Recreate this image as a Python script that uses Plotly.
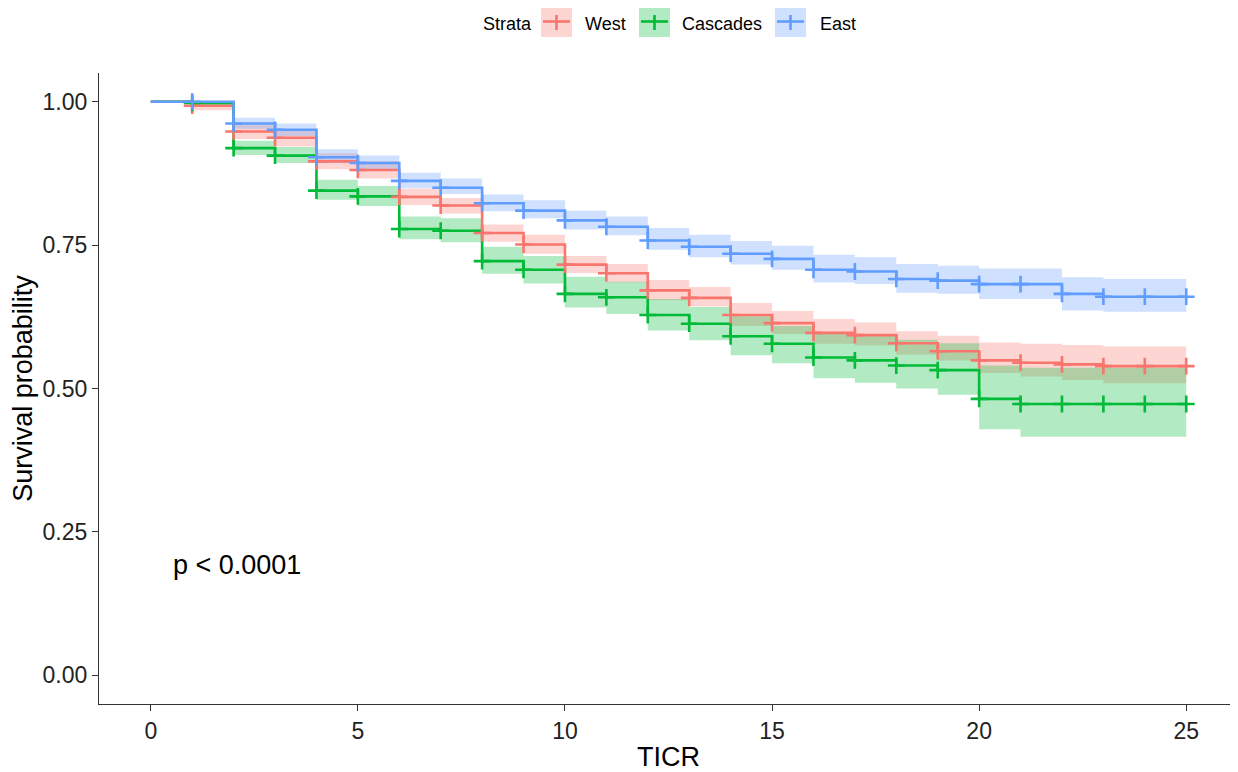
import plotly.graph_objects as go

# ---------------- data ----------------
times = list(range(0, 26))

west_surv = [1.000, 0.993, 0.948, 0.937, 0.896, 0.881, 0.834, 0.819, 0.771, 0.751,
             0.716, 0.701, 0.671, 0.658, 0.628, 0.614, 0.597, 0.593, 0.579, 0.565,
             0.549, 0.545, 0.542, 0.539, 0.539, 0.539]
west_upper = [1.000, 1.000, 0.960, 0.950, 0.910, 0.896, 0.848, 0.832, 0.786, 0.768,
              0.731, 0.717, 0.689, 0.677, 0.649, 0.635, 0.621, 0.615, 0.600, 0.592,
              0.580, 0.578, 0.576, 0.573, 0.573, 0.573]
west_lower = [1.000, 0.985, 0.935, 0.922, 0.882, 0.866, 0.820, 0.805, 0.756, 0.735,
              0.701, 0.685, 0.654, 0.643, 0.609, 0.595, 0.578, 0.575, 0.559, 0.549,
              0.527, 0.521, 0.515, 0.509, 0.509, 0.509]

cascades_surv = [1.000, 0.998, 0.919, 0.906, 0.845, 0.835, 0.778, 0.775, 0.722, 0.707,
                 0.665, 0.659, 0.628, 0.613, 0.591, 0.578, 0.554, 0.549, 0.540, 0.532,
                 0.482, 0.473, 0.473, 0.473, 0.473, 0.473]
cascades_upper = [1.000, 1.000, 0.932, 0.921, 0.864, 0.853, 0.800, 0.797, 0.747, 0.731,
                  0.695, 0.686, 0.656, 0.642, 0.626, 0.609, 0.596, 0.592, 0.585, 0.579,
                  0.540, 0.536, 0.536, 0.536, 0.536, 0.536]
cascades_lower = [1.000, 0.994, 0.907, 0.893, 0.829, 0.818, 0.760, 0.755, 0.700, 0.683,
                  0.641, 0.630, 0.601, 0.584, 0.558, 0.544, 0.518, 0.510, 0.500, 0.489,
                  0.429, 0.416, 0.416, 0.416, 0.416, 0.416]

east_surv = [1.000, 1.000, 0.962, 0.951, 0.903, 0.893, 0.862, 0.850, 0.823, 0.810,
             0.793, 0.782, 0.758, 0.747, 0.735, 0.726, 0.707, 0.704, 0.691, 0.688,
             0.682, 0.682, 0.665, 0.660, 0.660, 0.660]
east_upper = [1.000, 1.000, 0.972, 0.962, 0.917, 0.906, 0.876, 0.866, 0.838, 0.828,
              0.810, 0.800, 0.780, 0.768, 0.757, 0.749, 0.733, 0.729, 0.717, 0.714,
              0.709, 0.709, 0.694, 0.691, 0.691, 0.691]
east_lower = [1.000, 0.997, 0.953, 0.940, 0.893, 0.882, 0.849, 0.839, 0.809, 0.797,
              0.777, 0.767, 0.742, 0.729, 0.716, 0.707, 0.685, 0.682, 0.667, 0.665,
              0.656, 0.656, 0.636, 0.634, 0.634, 0.634]

strata_names = ["West", "Cascades", "East"]
x_ticks = [0, 5, 10, 15, 20, 25]
y_ticks = [0.0, 0.25, 0.5, 0.75, 1.0]
p_text = "p < 0.0001"

# ---------------- style ----------------
colors = {"West": "#F8766D", "Cascades": "#00BA38", "East": "#619CFF"}
fills = {"West": "rgba(248,118,109,0.30)", "Cascades": "rgba(0,186,56,0.30)",
         "East": "rgba(97,156,255,0.30)"}
FONT = "Liberation Sans, Arial, sans-serif"

series = {
    "West": (west_surv, west_upper, west_lower),
    "Cascades": (cascades_surv, cascades_upper, cascades_lower),
    "East": (east_surv, east_upper, east_lower),
}

OFF = 8  # page body margin of the browser
W, H = 1238 - OFF, 772 - OFF
ML, MT, MB = 99 - OFF, 73 - OFF, 68
MR = W - ML - 1139

fig = go.Figure()

# confidence bands
for name in strata_names:
    s, up, lo = series[name]
    fig.add_trace(go.Scatter(x=times, y=up, mode="lines",
                             line=dict(width=0, shape="hv", color=fills[name]),
                             hoverinfo="skip", showlegend=False))
    fig.add_trace(go.Scatter(x=times, y=lo, mode="lines",
                             line=dict(width=0, shape="hv", color=fills[name]),
                             fill="tonexty", fillcolor=fills[name],
                             hoverinfo="skip", showlegend=False))

# survival curves
for name in strata_names:
    s, up, lo = series[name]
    fig.add_trace(go.Scatter(x=times, y=s, mode="lines", name=name,
                             line=dict(width=2.6, shape="hv", color=colors[name]),
                             showlegend=False))

# censor marks
for name in strata_names:
    s, up, lo = series[name]
    fig.add_trace(go.Scatter(x=times[1:], y=s[1:], mode="markers",
                             marker=dict(symbol="cross-thin", size=12,
                                         line=dict(width=2.6, color=colors[name]),
                                         color=colors[name]),
                             showlegend=False, hoverinfo="skip"))

# p-value annotation
fig.add_annotation(x=0.5, y=0.193, xref="x", yref="y", text=p_text, showarrow=False,
                   xanchor="left", yanchor="middle",
                   font=dict(family=FONT, size=27, color="black"))

# ---------------- manual legend (window pixel positions -> paper) ----------------
pw = W - ML - MR
ph = H - MT - MB


def px(xp):
    return (xp - OFF - ML) / pw


def py(yp):
    return (H - MB - (yp - OFF)) / ph


fig.add_annotation(x=px(481), y=py(24), xref="paper", yref="paper", text="Strata",
                   showarrow=False, xanchor="left", yanchor="middle",
                   font=dict(family=FONT, size=18, color="black"))
legend_pos = {"West": (541, 583), "Cascades": (639, 680), "East": (775, 818)}
for name in strata_names:
    bx, tx = legend_pos[name]
    bw = 31
    fig.add_shape(type="rect", xref="paper", yref="paper",
                  x0=px(bx), x1=px(bx + bw), y0=py(37), y1=py(6),
                  fillcolor=fills[name], line=dict(width=0), layer="above")
    fig.add_shape(type="line", xref="paper", yref="paper",
                  x0=px(bx + 2), x1=px(bx + bw - 2), y0=py(21.5), y1=py(21.5),
                  line=dict(color=colors[name], width=2.6), layer="above")
    fig.add_shape(type="line", xref="paper", yref="paper",
                  x0=px(bx + bw / 2), x1=px(bx + bw / 2), y0=py(15), y1=py(30),
                  line=dict(color=colors[name], width=2.6), layer="above")
    fig.add_annotation(x=px(tx), y=py(24), xref="paper", yref="paper", text=name,
                       showarrow=False, xanchor="left", yanchor="middle",
                       font=dict(family=FONT, size=18, color="black"))

fig.update_layout(
    width=W, height=H,
    margin=dict(l=ML, r=MR, t=MT, b=MB, pad=0),
    paper_bgcolor="white", plot_bgcolor="white",
    font=dict(family=FONT, color="#222222"),
    showlegend=False,
    xaxis=dict(range=[-1.25, 26.25], tickvals=x_ticks, showgrid=False, zeroline=False,
               showline=True, linecolor="#333333", linewidth=1.3,
               ticks="outside", ticklen=6, tickwidth=1.3, tickcolor="#333333",
               tickfont=dict(family=FONT, size=23, color="#222222"),
               title=dict(text="TICR", font=dict(family=FONT, size=27, color="black"),
                          standoff=4)),
    yaxis=dict(range=[-0.05, 1.05], tickvals=y_ticks, tickformat=".2f",
               showgrid=False, zeroline=False,
               showline=True, linecolor="#333333", linewidth=1.3,
               ticks="outside", ticklen=6, tickwidth=1.3, tickcolor="#333333",
               tickfont=dict(family=FONT, size=23, color="#222222"),
               title=dict(text="Survival probability",
                          font=dict(family=FONT, size=27, color="black"),
                          standoff=2)),
)

fig.write_html("out.html")
